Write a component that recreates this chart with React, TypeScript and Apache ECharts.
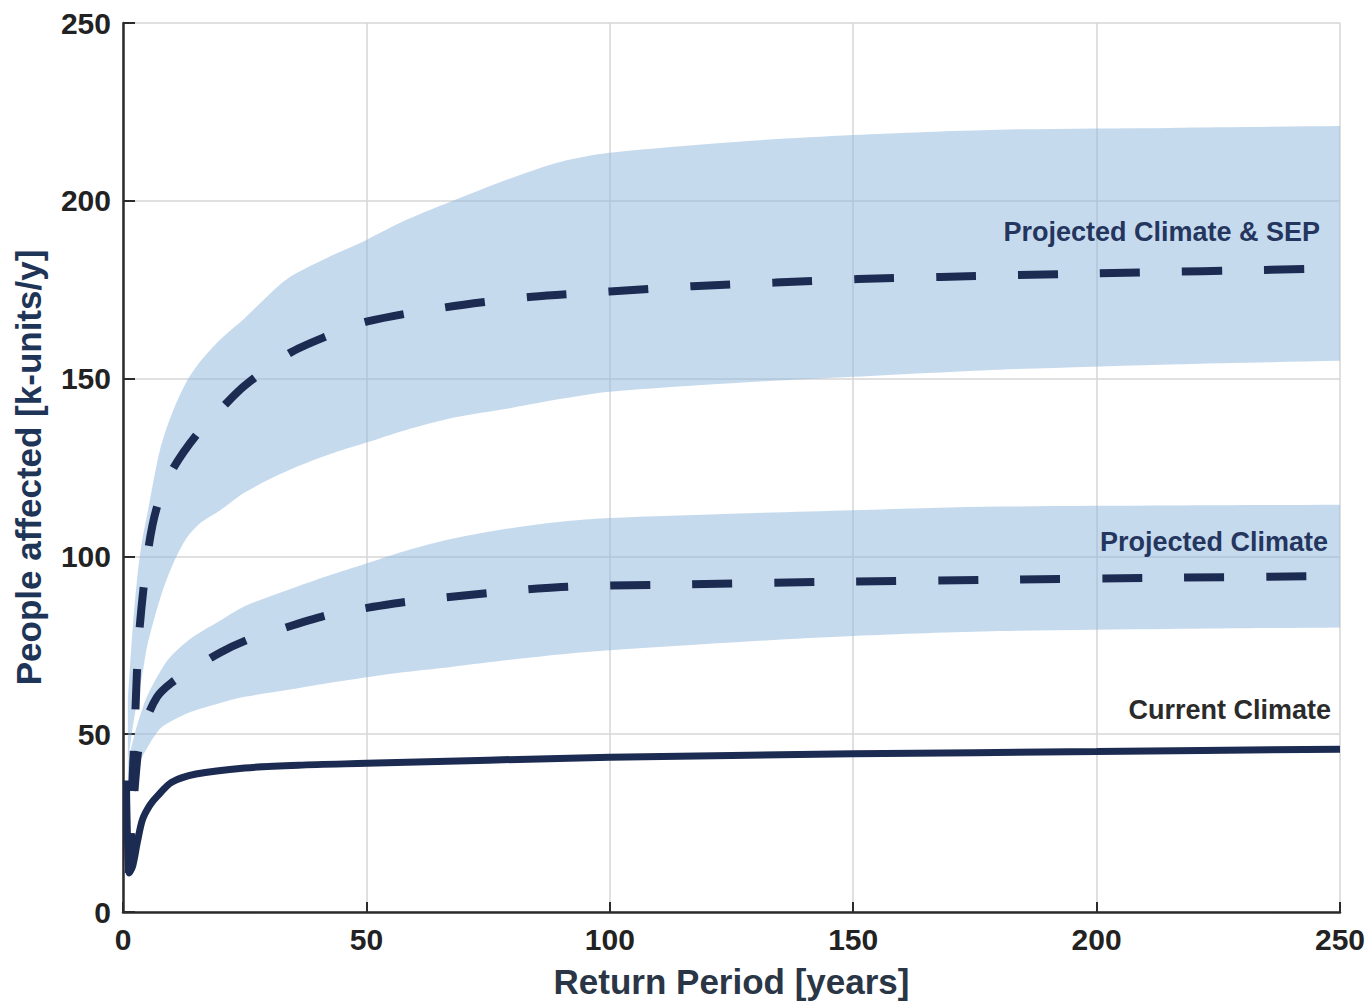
import React, { useEffect, useRef } from "react";
import * as echarts from "echarts";

// ---- Data ----
const xTicks = [0, 50, 100, 150, 200, 250];
const yTicks = [0, 50, 100, 150, 200, 250];

// Current Climate (solid)
const currX = [0.7, 1.3, 2, 3, 4, 5.5, 7, 10, 15, 25, 36, 50, 75, 100, 150, 200, 250];
const currY = [37, 11, 13, 20, 26, 30, 32.5, 36.5, 38.8, 40.5, 41.3, 41.8, 42.7, 43.5, 44.5, 45.1, 45.8];

// Projected Climate (dashed median)
const pcX = [1.2, 3, 4.5, 7, 10, 14, 20, 25.5, 30, 42, 50, 58, 75, 90, 110, 143, 177, 215, 250];
const pcY = [11, 44, 53, 60.5, 64.5, 68, 73, 76.5, 78.5, 83.5, 85.5, 87.2, 89.7, 91.4, 92, 92.8, 93.4, 94, 94.5];

// Projected Climate band
const pcBandX = [1, 2, 3, 4.9, 7.6, 9.7, 14, 20, 25, 33.7, 42, 50, 58, 67.8, 80, 91.8, 100, 125, 150, 180, 215, 250];
const pcUpper = [42, 48, 53, 60.5, 67.5, 71.7, 77, 82, 86, 90.5, 94.5, 98, 101.5, 105, 108, 110, 110.8, 112, 113, 114, 114.3, 114.5];
const pcLower = [30, 37, 41, 46, 51.5, 53.5, 56.3, 58.8, 60.5, 62.4, 64.3, 66, 67.5, 69, 71, 72.7, 73.6, 75.8, 77.6, 79, 79.6, 80];

// Projected Climate & SEP (dashed median)
const sepX = [1.2, 2.5, 3.3, 5.2, 7, 10, 15, 20.5, 25, 34, 42, 50, 66, 84, 100, 117, 134, 151, 168, 200, 250];
const sepY = [11, 55, 78, 102, 114, 124, 134, 142, 148, 157, 162, 166, 170, 173, 174.5, 176, 177, 178, 178.6, 179.6, 181];

// Projected Climate & SEP band
const sepBandX = [1, 2, 3, 4, 5, 7.6, 10, 13, 16, 20, 25, 33.7, 42, 50, 58, 67.8, 80, 90, 100, 125, 150, 180, 215, 250];
const sepUpper = [60, 80, 95, 105, 112, 130, 140, 149, 155, 161, 167, 178, 184, 189, 194.5, 200, 206.5, 211, 213.5, 216.5, 218.5, 220, 220.5, 221];
const sepLower = [42, 52, 60, 67, 75, 88, 97, 105, 109.5, 113, 118, 124, 128.5, 132, 135.5, 139, 141.8, 144.3, 146.3, 148.7, 150.5, 152.5, 154, 155];

const curveLabels = ["Projected Climate & SEP", "Projected Climate", "Current Climate"];

const NAVY = "#1c2b52";
const BAND = "rgba(141,181,221,0.5)";
const FONT = "'Liberation Sans', Arial, sans-serif";

const zip = (xs: number[], ys: number[]) => xs.map((x, i) => [x, ys[i]]);

const bands = [
  { xs: sepBandX, up: sepUpper, lo: sepLower },
  { xs: pcBandX, up: pcUpper, lo: pcLower },
];

export default function App() {
  const ref = useRef<HTMLDivElement>(null);

  useEffect(() => {
    if (!ref.current) return;
    const chart = echarts.init(ref.current, undefined, { renderer: "svg" });

    const option: any = {
      animation: false,
      backgroundColor: "#ffffff",
      grid: { left: 123, right: 30, top: 23, bottom: 92, containLabel: false },
      xAxis: {
        type: "value",
        min: xTicks[0],
        max: xTicks[xTicks.length - 1],
        interval: 50,
        name: "Return Period [years]",
        nameLocation: "middle",
        nameGap: 52,
        nameTextStyle: { fontFamily: FONT, fontWeight: "bold", fontSize: 35, color: "#2a3646" },
        axisLine: { show: true, onZero: false, lineStyle: { color: "#2b2b2b", width: 2.5 } },
        axisTick: { show: true, inside: true, length: 10, lineStyle: { color: "#2b2b2b", width: 2 } },
        axisLabel: { fontFamily: FONT, fontWeight: "bold", fontSize: 30, color: "#222", margin: 12 },
        splitLine: { show: true, lineStyle: { color: "#d6d6d6", width: 1.5 } },
      },
      yAxis: {
        type: "value",
        min: yTicks[0],
        max: yTicks[yTicks.length - 1],
        interval: 50,
        name: "People affected [k-units/y]",
        nameLocation: "middle",
        nameGap: 77,
        nameTextStyle: { fontFamily: FONT, fontWeight: "bold", fontSize: 35, color: "#1e3558" },
        axisLine: { show: true, onZero: false, lineStyle: { color: "#2b2b2b", width: 2.5 } },
        axisTick: { show: true, inside: true, length: 12, lineStyle: { color: "#2b2b2b", width: 2 } },
        axisLabel: { fontFamily: FONT, fontWeight: "bold", fontSize: 30, color: "#222", margin: 12 },
        splitLine: { show: true, lineStyle: { color: "#d6d6d6", width: 1.5 } },
      },
      series: [
        {
          type: "custom",
          silent: true,
          z: 1,
          data: bands.map((_, i) => [i]),
          encode: { x: -1, y: -1 },
          renderItem: (params: any, api: any) => {
            const b = bands[params.dataIndex];
            const top = b.xs.map((x, i) => api.coord([x, b.up[i]]));
            const bot = b.xs.map((x, i) => api.coord([x, b.lo[i]])).reverse();
            // duplicate corner points so the smoothing keeps the band ends square
            const pts = [top[0], ...top, top[top.length - 1], bot[0], ...bot, bot[bot.length - 1]];
            return {
              type: "polygon",
              shape: { points: pts, smooth: 0.3 },
              style: { fill: BAND, stroke: "none" },
            };
          },
        },
        {
          type: "line",
          data: zip(currX, currY),
          showSymbol: false,
          smooth: 0.3,
          lineStyle: { color: NAVY, width: 7 },
          silent: true,
          z: 3,
        },
        {
          type: "line",
          data: zip(pcX, pcY),
          showSymbol: false,
          smooth: 0.3,
          lineStyle: { color: NAVY, width: 8, type: [40, 42] },
          silent: true,
          z: 3,
        },
        {
          type: "line",
          data: zip(sepX, sepY),
          showSymbol: false,
          smooth: 0.3,
          lineStyle: { color: NAVY, width: 8, type: [40, 42] },
          silent: true,
          z: 3,
        },
      ],
      graphic: [
        {
          type: "text",
          right: 50,
          top: 218,
          style: { text: curveLabels[0], fontFamily: FONT, fontWeight: "bold", fontSize: 27, fill: "#24365e" },
          z: 10,
        },
        {
          type: "text",
          right: 42,
          top: 528,
          style: { text: curveLabels[1], fontFamily: FONT, fontWeight: "bold", fontSize: 27, fill: "#24365e" },
          z: 10,
        },
        {
          type: "text",
          right: 39,
          top: 696,
          style: { text: curveLabels[2], fontFamily: FONT, fontWeight: "bold", fontSize: 27, fill: "#2b2b2b" },
          z: 10,
        },
      ],
    };

    chart.setOption(option);
    return () => chart.dispose();
  }, []);

  return (
    <div
      ref={ref}
      style={{ position: "fixed", left: 0, top: 0, width: 1370, height: 1004, background: "#fff" }}
    />
  );
}
